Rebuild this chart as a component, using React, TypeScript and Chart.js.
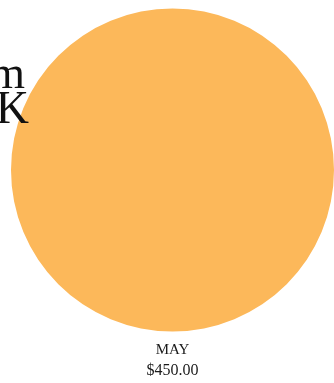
import React, { useEffect, useRef } from "react";
import { Chart, registerables } from "chart.js";

Chart.register(...registerables);

const categories = ["MAY"];
const values = [450];
const colors = ["#FCB85A"];
const titleLines = ["m", "K"];

const formatMoney = (v: number) => "$" + v.toFixed(2);

const textPlugin = {
  id: "textPlugin",
  afterDraw(chart: any) {
    const ctx = chart.ctx;
    const area = chart.chartArea;
    const cx = (area.left + area.right) / 2;
    ctx.save();
    ctx.fillStyle = "#1a1a1a";
    ctx.textAlign = "center";
    ctx.textBaseline = "alphabetic";
    ctx.font = '15px "Liberation Serif"';
    const label = String(chart.data.labels[0]);
    const val = chart.data.datasets[0].data[0] as number;
    ctx.fillText(label, cx, area.bottom + 22);
    ctx.font = '16px "Liberation Serif"';
    ctx.fillText(formatMoney(val), cx, area.bottom + 43);
    ctx.fillStyle = "#111";
    ctx.textAlign = "right";
    ctx.font = '46px "Liberation Serif"';
    ctx.fillText(titleLines[0], 25, 88);
    ctx.fillText(titleLines[1], 29, 123);
    ctx.restore();
  },
};

export default function App() {
  const ref = useRef<HTMLCanvasElement>(null);
  useEffect(() => {
    if (!ref.current) return;
    const chart = new Chart(ref.current, {
      type: "pie",
      data: {
        labels: categories,
        datasets: [
          {
            data: values,
            backgroundColor: colors,
            borderWidth: 0,
          },
        ],
      },
      options: {
        animation: false,
        responsive: false,
        maintainAspectRatio: false,
        layout: { padding: { left: 11, right: 0, top: 8, bottom: 51 } },
        plugins: {
          legend: { display: false },
          tooltip: { enabled: false },
          title: { display: false },
        },
      },
      plugins: [textPlugin],
    });
    return () => chart.destroy();
  }, []);
  return (
    <div style={{ position: "absolute", left: 0, top: 0, width: 334, height: 383, overflow: "hidden", background: "#fff" }}>
      <canvas ref={ref} width={334} height={383} style={{ display: "block", width: 334, height: 383 }} />
    </div>
  );
}
